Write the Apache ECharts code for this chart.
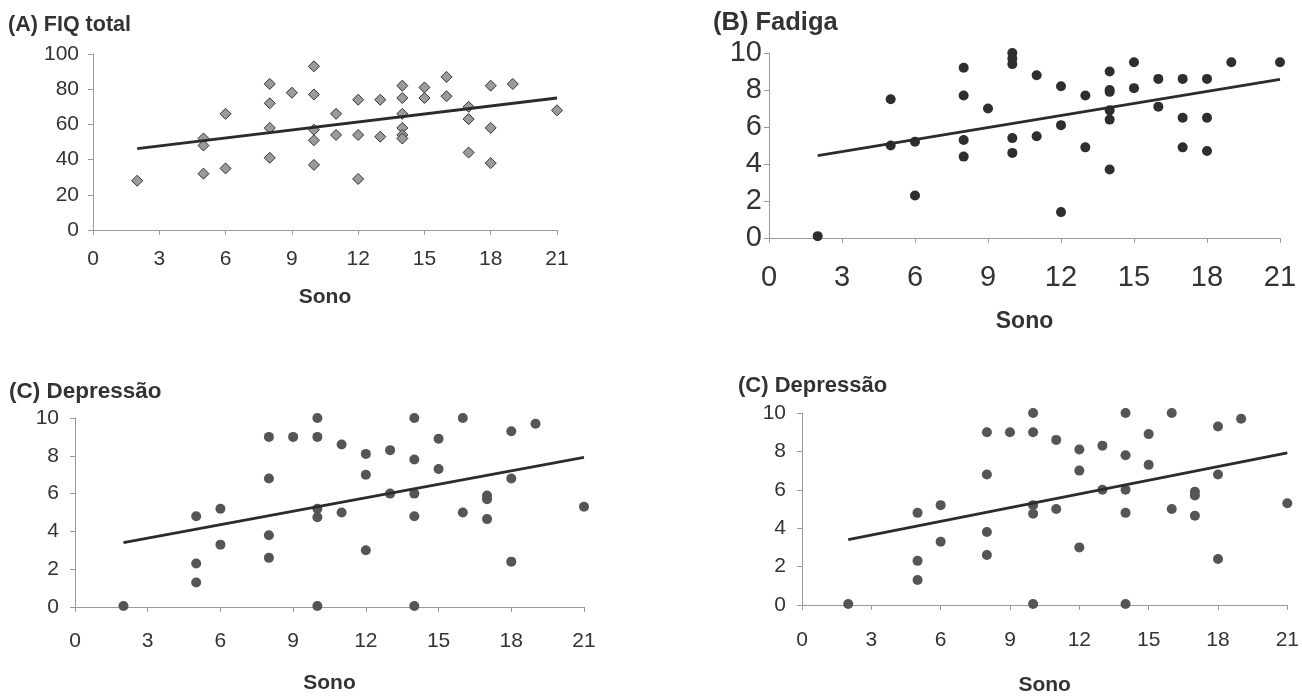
<!DOCTYPE html>
<html><head><meta charset="utf-8">
<script src="https://cdn.jsdelivr.net/npm/echarts@6/dist/echarts.min.js"></script>
<style>html,body{margin:0;padding:0;background:#fff}#c{width:1302px;height:697px}</style>
</head><body><div id="c"></div>
<script>
// Panel A: FIQ total vs Sono
const fiqX = [2,5,5,5,6,6,8,8,8,8,9,10,10,10,10,10,11,11,12,12,12,13,13,14,14,14,14,14,14,15,15,16,16,17,17,17,18,18,18,19,21];
const fiqY = [28,52,48,32,66,35,83,72,58,41,78,93,77,57,51,37,66,54,74,54,29,74,53,82,75,66,58,54,52,81,75,87,76,70,63,44,82,58,38,83,68];
const fiqTrend = [[2,46.2],[21,75]];
// Panel B: Fadiga vs Sono
const fadX = [2,5,5,6,6,8,8,8,8,9,10,10,10,10,10,11,11,12,12,12,13,13,14,14,14,14,14,14,15,15,16,16,17,17,17,18,18,18,19,21];
const fadY = [0.1,7.5,5.0,5.2,2.3,9.2,7.7,5.3,4.4,7.0,10.0,9.7,9.4,5.4,4.6,8.8,5.5,8.2,6.1,1.4,7.7,4.9,9.0,8.0,7.9,6.9,6.4,3.7,9.5,8.1,8.6,7.1,8.6,6.5,4.9,8.6,6.5,4.7,9.5,9.5];
const fadTrend = [[2,4.45],[21,8.58]];
// Panel C (and its duplicate): Depressão vs Sono
const depX = [2,5,5,5,6,6,8,8,8,8,9,10,10,10,10,10,11,11,12,12,12,13,13,14,14,14,14,14,15,15,16,16,17,17,17,18,18,18,19,21];
const depY = [0.05,4.8,2.3,1.3,5.2,3.3,9.0,6.8,3.8,2.6,9.0,10.0,9.0,5.2,4.75,0.05,8.6,5.0,8.1,7.0,3.0,8.3,6.0,10.0,7.8,6.0,4.8,0.05,8.9,7.3,10.0,5.0,5.9,5.7,4.65,9.3,6.8,2.4,9.7,5.3];
const depTrend = [[2,3.4],[21,7.92]];

const titles = ['(A) FIQ total','(B) Fadiga','(C) Depressão','(C) Depressão'];
const xName = 'Sono';
const xTicks = {min:0, max:21, interval:3};
const yTicksA = {min:0, max:100, interval:20};
const yTicks10 = {min:0, max:10, interval:2};

const zip = (xs, ys) => xs.map((x,i)=>[x, ys[i]]);
const FONT = 'Liberation Sans, Arial, sans-serif';
const AX = '#9a9a9a';

const panels = [
  {grid:{left:93, top:54, width:464, height:176}, y:yTicksA, lab:21, xm:19, ym:14, nameSize:21, nameGap:57,
   data:zip(fiqX,fiqY), trend:fiqTrend, sym:'diamond', size:11, color:'#9b9b9b', border:'#333'},
  {grid:{left:769, top:53, width:511, height:185}, y:yTicks10, lab:29, xm:25, ym:7, nameSize:23, nameGap:72,
   data:zip(fadX,fadY), trend:fadTrend, sym:'circle', size:10, color:'#2e2e2e', border:null},
  {grid:{left:75, top:418, width:509, height:189}, y:yTicks10, lab:21, xm:24, ym:16, nameSize:21, nameGap:66,
   data:zip(depX,depY), trend:depTrend, sym:'circle', size:10, color:'#555', border:null},
  {grid:{left:802, top:413, width:488, height:192}, y:yTicks10, lab:21, xm:25, ym:16, nameSize:21, nameGap:70,
   data:zip(depX,depY), trend:depTrend, sym:'circle', size:10, color:'#555', border:null}
];
const titlePos = [{left:8, top:14, size:21.5},{left:713, top:10, size:25.5},{left:9, top:380, size:22.5},{left:738, top:375, size:22}];

const option = {
  animation:false,
  backgroundColor:'#fff',
  title: titles.map((t,i)=>({text:t, left:titlePos[i].left, top:titlePos[i].top, padding:0,
    textStyle:{fontFamily:FONT, fontSize:titlePos[i].size, fontWeight:'bold', color:'#333'}})),
  grid: panels.map(p=>p.grid),
  xAxis: panels.map((p,i)=>({type:'value', gridIndex:i, min:xTicks.min, max:xTicks.max, interval:xTicks.interval,
    name:xName, nameLocation:'middle', nameGap:p.nameGap,
    nameTextStyle:{fontFamily:FONT, fontSize:p.nameSize, fontWeight:'bold', color:'#333'},
    axisLine:{show:true, onZero:false, lineStyle:{color:AX, width:1}},
    axisTick:{show:true, length:5, lineStyle:{color:AX}},
    axisLabel:{margin:p.xm, fontFamily:FONT, fontSize:p.lab, color:'#333', showMinLabel:true, showMaxLabel:true},
    splitLine:{show:false}})),
  yAxis: panels.map((p,i)=>({type:'value', gridIndex:i, min:p.y.min, max:p.y.max, interval:p.y.interval,
    axisLine:{show:true, lineStyle:{color:AX, width:1}},
    axisTick:{show:true, length:5, lineStyle:{color:AX}},
    axisLabel:{margin:p.ym, fontFamily:FONT, fontSize:p.lab, color:'#333'},
    splitLine:{show:false}})),
  series: panels.flatMap((p,i)=>[
    {type:'scatter', xAxisIndex:i, yAxisIndex:i, data:p.data, symbol:p.sym, symbolSize:p.size, clip:false,
     itemStyle:{color:p.color, borderColor:p.border||p.color, borderWidth:p.border?1:0, opacity:1}, z:2},
    {type:'line', xAxisIndex:i, yAxisIndex:i, data:p.trend, symbol:'none', clip:false,
     lineStyle:{color:'#2b2b2b', width:2.8}, z:3}
  ])
};
echarts.init(document.getElementById('c'), null, {renderer:'canvas'}).setOption(option);
</script></body></html>
